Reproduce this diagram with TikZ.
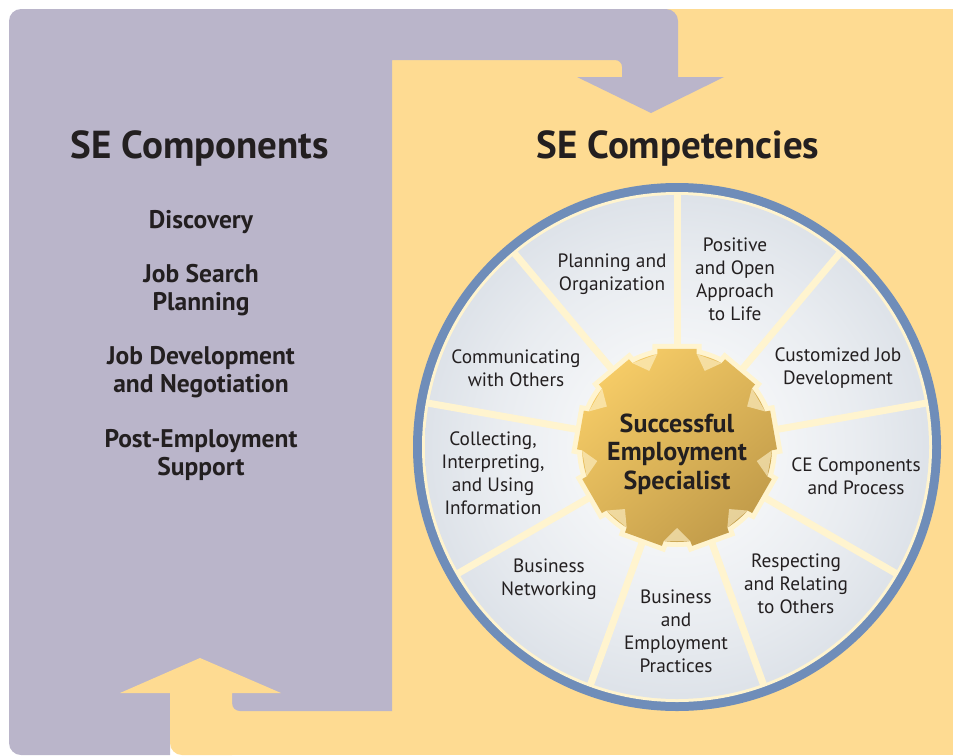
\documentclass[tikz,border=0pt]{standalone}
\usepackage{fontspec}
\setmainfont{PT Sans}
\usepackage{tikz}
\usetikzlibrary{shapes,arrows}
\definecolor{lilac}{HTML}{BAB5CA}
\definecolor{sand}{HTML}{FEDB92}
\definecolor{ringblue}{HTML}{6F8DB9}
\definecolor{cream}{HTML}{FFF4CF}
\definecolor{wedge}{HTML}{B5C0CE}
\definecolor{goldlight}{HTML}{F5CB66}
\definecolor{golddark}{HTML}{C29C4A}
\definecolor{ink}{HTML}{231F20}
\pgfdeclareradialshading{wheelshade}{\pgfpoint{0bp}{0bp}}{color(0bp)=(white); color(18bp)=(wedge!30!white); color(50bp)=(wedge)}
\tikzset{
  heading/.style={font=\bfseries\fontsize{39}{43}\selectfont, text=ink},
  component/.style={font=\bfseries\fontsize{25.5}{28.5}\selectfont, text=ink, align=center},
  competency/.style={font=\fontsize{19.3}{23}\selectfont, text=ink, align=center},
  specialist/.style={font=\bfseries\fontsize{26}{28.5}\selectfont, text=ink, align=center}
}

\begin{document}
\begin{tikzpicture}[x=1pt,y=-1pt]
\useasboundingbox (0,0) rectangle (953,755);
% background bands
\fill[sand] (232,9) rectangle (953,755);
\fill[lilac] (9,400) [rounded corners=12] -- (9,9) -- (678,9) [sharp corners] -- (678,77) -- (724,77) -- (651,113) -- (577,77) -- (622,77) [rounded corners=7] -- (622,60) [sharp corners] -- (392,60) -- (392,711) [rounded corners=8] -- (232,711) [sharp corners] -- (232,693) -- (170,693) -- (170,755) [rounded corners=12] -- (9,755) [sharp corners] -- cycle;
\fill[sand] (232,755) -- (232,693) -- (281,693) -- (200,658) -- (120,693) -- (170,693) [rounded corners=12] -- (170,755) [sharp corners] -- cycle;

% wheel
\begin{scope}[shift={(677,447)}]
\fill[ringblue] (0,0) circle[radius=264];
\fill[cream] (0,0) circle[radius=255];
\shade[shading=wheelshade] (0,0) circle[radius=252];
\foreach \a in {-90,-50,...,230}
  \draw[cream, line width=7] (0,0) -- (\a:253);
\shade[top color=goldlight, bottom color=golddark, shading angle=40,
  preaction={draw=cream, line width=10}]
  (0,0) circle[radius=95]
  foreach \a in {-90,-50,...,230} {({\a-14}:82.5) -- ({\a-11.3}:100) -- ({\a+11.3}:100) -- ({\a+14}:82.5) -- cycle};
\foreach \a in {-70,-30,...,250}
  \fill[cream, opacity=0.6] ({\a-8}:95) -- (\a:81) -- ({\a+8}:95) -- cycle;
\end{scope}

% texts
\node[heading] (components) at (200,148) {SE Components};
\node[heading] (competencies) at (678,148) {SE Competencies};

\node[component] (discovery) at (201,222) {Discovery};
\node[component] (search) at (201,290) {Job Search\\Planning};
\node[component] (development) at (201,372) {Job Development\\and Negotiation};
\node[component] (support) at (201,455) {Post-Employment\\Support};

\node[specialist] (centre) at (677,454) {Successful\\Employment\\Specialist};

\node[competency] (planning) at (612,274) {Planning and\\Organization};
\node[competency] (positive) at (735,279) {Positive\\and Open\\Approach\\to Life};
\node[competency] (customized) at (838,368) {Customized Job\\Development};
\node[competency] (process) at (856,476) {CE Components\\and Process};
\node[competency] (respecting) at (796,584) {Respecting\\and Relating\\to Others};
\node[competency] (practices) at (676,631) {Business\\and\\Employment\\Practices};
\node[competency] (networking) at (549,579) {Business\\Networking};
\node[competency] (collecting) at (493,473) {Collecting,\\Interpreting,\\and Using\\Information};
\node[competency] (communicating) at (516,368) {Communicating\\with Others};
\end{tikzpicture}
\end{document}
